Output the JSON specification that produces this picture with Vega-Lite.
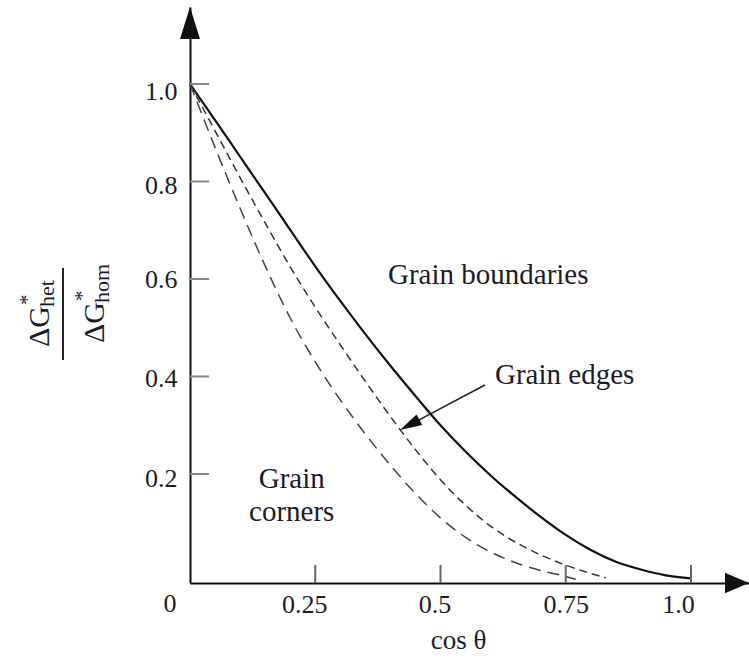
{
  "$schema": "https://vega.github.io/schema/vega-lite/v6.json",
  "width": 559,
  "height": 576,
  "autosize": "none",
  "padding": {"left": 190, "top": 7, "right": 0, "bottom": 75},
  "background": "white",
  "config": {
    "view": {"stroke": null},
    "font": "Liberation Serif",
    "axis": {"labelFont": "Liberation Serif", "titleFont": "Liberation Serif"}
  },
  "datasets": {
    "curves": [
      {"c": 0, "v": 1.0, "curve": "boundaries"},
      {"c": 0.05, "v": 0.926, "curve": "boundaries"},
      {"c": 0.1, "v": 0.851, "curve": "boundaries"},
      {"c": 0.15, "v": 0.776, "curve": "boundaries"},
      {"c": 0.2, "v": 0.701, "curve": "boundaries"},
      {"c": 0.25, "v": 0.626, "curve": "boundaries"},
      {"c": 0.3, "v": 0.555, "curve": "boundaries"},
      {"c": 0.35, "v": 0.487, "curve": "boundaries"},
      {"c": 0.4, "v": 0.422, "curve": "boundaries"},
      {"c": 0.45, "v": 0.36, "curve": "boundaries"},
      {"c": 0.5, "v": 0.3, "curve": "boundaries"},
      {"c": 0.55, "v": 0.246, "curve": "boundaries"},
      {"c": 0.6, "v": 0.197, "curve": "boundaries"},
      {"c": 0.65, "v": 0.153, "curve": "boundaries"},
      {"c": 0.7, "v": 0.112, "curve": "boundaries"},
      {"c": 0.75, "v": 0.075, "curve": "boundaries"},
      {"c": 0.8, "v": 0.044, "curve": "boundaries"},
      {"c": 0.85, "v": 0.02, "curve": "boundaries"},
      {"c": 0.9, "v": 0.004, "curve": "boundaries"},
      {"c": 0.95, "v": -0.008, "curve": "boundaries"},
      {"c": 1.0, "v": -0.014, "curve": "boundaries"},
      {"c": 0, "v": 1.0, "curve": "edges"},
      {"c": 0.05, "v": 0.904, "curve": "edges"},
      {"c": 0.1, "v": 0.808, "curve": "edges"},
      {"c": 0.15, "v": 0.715, "curve": "edges"},
      {"c": 0.2, "v": 0.625, "curve": "edges"},
      {"c": 0.25, "v": 0.542, "curve": "edges"},
      {"c": 0.3, "v": 0.465, "curve": "edges"},
      {"c": 0.35, "v": 0.39, "curve": "edges"},
      {"c": 0.4, "v": 0.318, "curve": "edges"},
      {"c": 0.45, "v": 0.25, "curve": "edges"},
      {"c": 0.5, "v": 0.188, "curve": "edges"},
      {"c": 0.55, "v": 0.136, "curve": "edges"},
      {"c": 0.6, "v": 0.093, "curve": "edges"},
      {"c": 0.65, "v": 0.06, "curve": "edges"},
      {"c": 0.7, "v": 0.034, "curve": "edges"},
      {"c": 0.75, "v": 0.013, "curve": "edges"},
      {"c": 0.8, "v": -0.004, "curve": "edges"},
      {"c": 0.83, "v": -0.013, "curve": "edges"},
      {"c": 0, "v": 1.0, "curve": "corners"},
      {"c": 0.05, "v": 0.87, "curve": "corners"},
      {"c": 0.1, "v": 0.745, "curve": "corners"},
      {"c": 0.15, "v": 0.627, "curve": "corners"},
      {"c": 0.2, "v": 0.52, "curve": "corners"},
      {"c": 0.25, "v": 0.43, "curve": "corners"},
      {"c": 0.3, "v": 0.352, "curve": "corners"},
      {"c": 0.35, "v": 0.282, "curve": "corners"},
      {"c": 0.4, "v": 0.218, "curve": "corners"},
      {"c": 0.45, "v": 0.16, "curve": "corners"},
      {"c": 0.5, "v": 0.11, "curve": "corners"},
      {"c": 0.55, "v": 0.07, "curve": "corners"},
      {"c": 0.6, "v": 0.04, "curve": "corners"},
      {"c": 0.65, "v": 0.018, "curve": "corners"},
      {"c": 0.7, "v": 0.002, "curve": "corners"},
      {"c": 0.75, "v": -0.01, "curve": "corners"},
      {"c": 0.77, "v": -0.016, "curve": "corners"}
    ],
    "notes": [
      {"c": 0.3952, "v": 0.5897, "text": "Grain boundaries", "kind": "left"},
      {"c": 0.6088, "v": 0.3846, "text": "Grain edges", "kind": "left"},
      {"c": 0.203, "v": 0.1713, "text": "Grain", "kind": "center"},
      {"c": 0.203, "v": 0.1042, "text": "corners", "kind": "center"}
    ],
    "xticks": [
      {"c": 0.25, "v": -0.0236, "v2": 0.0133},
      {"c": 0.5, "v": -0.0236, "v2": 0.0133},
      {"c": 0.75, "v": -0.0236, "v2": 0.0133},
      {"c": 1.0, "v": -0.0236, "v2": 0.0133}
    ],
    "yticks": [
      {"v": 0.2, "c": 0, "c2": 0.038},
      {"v": 0.4, "c": 0, "c2": 0.038},
      {"v": 0.6, "c": 0, "c2": 0.038},
      {"v": 0.8, "c": 0, "c2": 0.038},
      {"v": 1.0, "c": 0, "c2": 0.038}
    ],
    "yarrow": [{"c": 0, "v": 1.1251}],
    "xarrow": [{"c": 1.0918, "v": -0.0236}],
    "pointer": [{"c": 0.5888, "v": 0.3826, "c2": 0.4385, "v2": 0.3007}],
    "pointerhead": [{"c": 0.4385, "v": 0.3007}],
    "frac": [
      {"c": -0.2814, "v": 0.4605, "sub": "het"},
      {"c": -0.1717, "v": 0.4687, "sub": "hom"}
    ],
    "bar": [{"c": -0.2535, "v": 0.4338, "v2": 0.6226}],
    "zero": [{"c": -0.04, "v": -0.0236, "text": "0"}]
  },
  "encoding": {
    "x": {
      "field": "c",
      "type": "quantitative",
      "scale": {"domain": [0, 1.1158], "nice": false, "zero": false},
      "title": "cos θ",
      "axis": {
        "values": [0.25, 0.5, 0.75, 1],
        "format": ".2~f",
        "labelExpr": "datum.value == 1 ? '1.0' : datum.label",
        "ticks": false,
        "grid": false,
        "domainColor": "#111111",
        "domainWidth": 2,
        "labelFont": "Liberation Serif",
        "labelFontSize": 26,
        "labelColor": "#1c1c28",
        "labelPadding": 8,
        "labelFlush": false,
        "labelOverlap": false,
        "labelOffset": {"condition": [{"test": "datum.value == 0.25", "value": -11}, {"test": "datum.value == 0.5", "value": -6}, {"test": "datum.value == 1", "value": -13}], "value": 0},
        "titleFont": "Liberation Serif",
        "titleFontSize": 27,
        "titleFontWeight": "normal",
        "titleColor": "#1c1c28",
        "titleX": 268,
        "titleY": 65,
        "titleBaseline": "alphabetic"
      }
    },
    "y": {
      "field": "v",
      "type": "quantitative",
      "scale": {"domain": [-0.0236, 1.158], "nice": false, "zero": false},
      "title": null,
      "axis": {
        "values": [0.2, 0.4, 0.6, 0.8, 1],
        "format": ".1f",
        "ticks": false,
        "grid": false,
        "domainColor": "#111111",
        "domainWidth": 2,
        "labelFont": "Liberation Serif",
        "labelFontSize": 26,
        "labelColor": "#1c1c28",
        "labelPadding": 13,
        "labelOffset": {"condition": [{"test": "datum.value == 1", "value": 7}, {"test": "datum.value == 0.8", "value": 4}, {"test": "datum.value == 0.2", "value": 4}, {"test": "datum.value == 0.4", "value": 2}], "value": 0}
      }
    }
  },
  "layer": [
    {
      "data": {"name": "curves"},
      "transform": [{"filter": "datum.curve == 'boundaries'"}],
      "mark": {"type": "line", "color": "#111111", "strokeWidth": 2.2, "interpolate": "monotone"}
    },
    {
      "data": {"name": "curves"},
      "transform": [{"filter": "datum.curve == 'edges'"}],
      "mark": {"type": "line", "color": "#333333", "strokeWidth": 1.5, "strokeDash": [8, 5], "interpolate": "monotone"}
    },
    {
      "data": {"name": "curves"},
      "transform": [{"filter": "datum.curve == 'corners'"}],
      "mark": {"type": "line", "color": "#444444", "strokeWidth": 1.5, "strokeDash": [12, 7], "interpolate": "monotone"}
    },
    {
      "data": {"name": "notes"},
      "transform": [{"filter": "datum.kind == 'left'"}],
      "mark": {"type": "text", "align": "left", "baseline": "alphabetic", "font": "Liberation Serif", "fontSize": 29, "color": "#1c1c28"},
      "encoding": {"text": {"field": "text"}}
    },
    {
      "data": {"name": "notes"},
      "transform": [{"filter": "datum.kind == 'center'"}],
      "mark": {"type": "text", "align": "center", "baseline": "alphabetic", "font": "Liberation Serif", "fontSize": 29, "color": "#1c1c28"},
      "encoding": {"text": {"field": "text"}}
    },
    {
      "data": {"name": "xticks"},
      "mark": {"type": "rule", "color": "#666666", "strokeWidth": 2},
      "encoding": {"y2": {"field": "v2"}}
    },
    {
      "data": {"name": "yticks"},
      "mark": {"type": "rule", "color": "#888888", "strokeWidth": 2},
      "encoding": {"x2": {"field": "c2"}}
    },
    {
      "data": {"name": "yarrow"},
      "mark": {"type": "point", "shape": "M0,-1L0.625,1L-0.625,1Z", "size": 1024, "filled": true, "color": "#111111", "opacity": 1, "strokeWidth": 0}
    },
    {
      "data": {"name": "xarrow"},
      "mark": {"type": "point", "shape": "M1,0L-1,-0.85L-1,0.85Z", "size": 576, "filled": true, "color": "#111111", "opacity": 1, "strokeWidth": 0}
    },
    {
      "data": {"name": "pointer"},
      "mark": {"type": "rule", "color": "#222222", "strokeWidth": 1.5},
      "encoding": {"x2": {"field": "c2"}, "y2": {"field": "v2"}}
    },
    {
      "data": {"name": "pointerhead"},
      "mark": {"type": "point", "shape": "M0,-1L0.55,1L-0.55,1Z", "size": 484, "angle": 242, "filled": true, "color": "#111111", "opacity": 1, "strokeWidth": 0}
    },
    {
      "data": {"name": "frac"},
      "mark": {"type": "text", "angle": 270, "align": "left", "baseline": "alphabetic", "font": "Liberation Serif", "fontSize": 30, "color": "#1c1c28"},
      "encoding": {"text": {"value": "ΔG"}}
    },
    {
      "data": {"name": "frac"},
      "mark": {"type": "text", "angle": 270, "align": "left", "baseline": "alphabetic", "font": "Liberation Serif", "fontSize": 22, "color": "#1c1c28", "dx": 40, "dy": 5},
      "encoding": {"text": {"field": "sub"}}
    },
    {
      "data": {"name": "frac"},
      "mark": {"type": "text", "angle": 270, "align": "left", "baseline": "alphabetic", "font": "Liberation Serif", "fontSize": 21, "color": "#1c1c28", "dx": 42, "dy": -15},
      "encoding": {"text": {"value": "*"}}
    },
    {
      "data": {"name": "bar"},
      "mark": {"type": "rule", "color": "#222222", "strokeWidth": 2},
      "encoding": {"y2": {"field": "v2"}}
    },
    {
      "data": {"name": "zero"},
      "mark": {"type": "text", "align": "center", "baseline": "top", "dy": 8, "font": "Liberation Serif", "fontSize": 26, "color": "#1c1c28"},
      "encoding": {"text": {"field": "text"}}
    }
  ]
}
